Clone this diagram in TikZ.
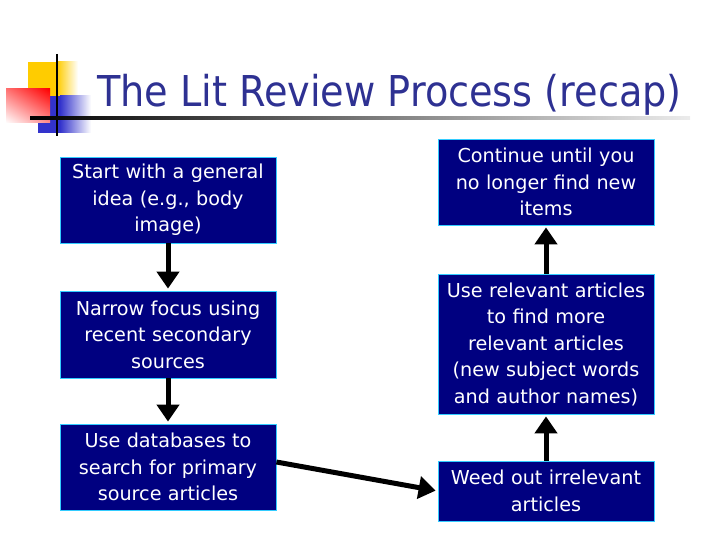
\documentclass[tikz,border=0pt]{standalone}
\usepackage{fontspec}
\setmainfont{DejaVu Sans}
\newfontfamily\condfont{DejaVu Sans Condensed}
\usetikzlibrary{arrows.meta,shadings}
\definecolor{boxnavy}{HTML}{000080}
\definecolor{boxedge}{HTML}{33CCFF}
\definecolor{titleblue}{HTML}{2E3192}
\definecolor{decoyellow}{HTML}{FFCC00}
\definecolor{decored}{HTML}{FF0000}
\definecolor{decoblue}{HTML}{3333CC}
\tikzset{
  stepbox/.style={draw=boxedge, line width=0.8pt, fill=boxnavy, text=white,
    minimum width=216pt, inner sep=0pt, text width=210pt, align=center,
    font=\fontsize{19.2}{26.5}\selectfont},
  flowarrow/.style={line width=5pt, -{Triangle[width=22pt,length=17pt]}, shorten >=2pt}
}
\begin{document}
\begin{tikzpicture}[x=1pt,y=-1pt]
\useasboundingbox (0,0) rectangle (720,540);
% decoration
\fill[decoyellow] (28,62) rectangle (57,96);
\shade[left color=decoyellow, right color=white] (57,62) rectangle (78,96);
\fill[decoblue] (38,96) rectangle (60,133);
\shade[left color=decoblue, right color=white] (60,96) rectangle (91,133);
\shade[upper left=decored!55, upper right=decored, lower left=white, lower right=decored!45] (6,89) rectangle (50,123);
\draw[line width=2pt] (57,54) -- (57,136);
\shade[left color=black, right color=gray!15] (30,117) rectangle (690,119.5);
% title
\node[anchor=base west, inner sep=0pt, text=titleblue, font=\condfont\fontsize{42.5}{50}\selectfont] (title) at (97,107) {The Lit Review Process (recap)};
% boxes
\node[stepbox, minimum height=86pt] (l1) at (168,200) {Start with a general\\idea (e.g., body\\image)};
\node[stepbox, minimum height=87pt] (l2) at (168,334.5) {Narrow focus using\\recent secondary\\sources};
\node[stepbox, minimum height=86pt] (l3) at (168,467) {Use databases to\\search for primary\\source articles};
\node[stepbox, minimum height=86pt] (r1) at (546,182) {Continue until you\\no longer find new\\items};
\node[stepbox, minimum height=140pt] (r2) at (546,344) {Use relevant articles\\to find more\\relevant articles\\(new subject words\\and author names)};
\node[stepbox, minimum height=60pt] (r3) at (546,491) {Weed out irrelevant\\articles};
% arrows
\draw[flowarrow] (l1.south) -- (l2.north);
\draw[flowarrow] (l2.south) -- (l3.north);
\draw[flowarrow] ([yshift=5pt]l3.east) -- (r3.west);
\draw[flowarrow] (r3.north) -- (r2.south);
\draw[flowarrow] (r2.north) -- (r1.south);
\end{tikzpicture}
\end{document}
